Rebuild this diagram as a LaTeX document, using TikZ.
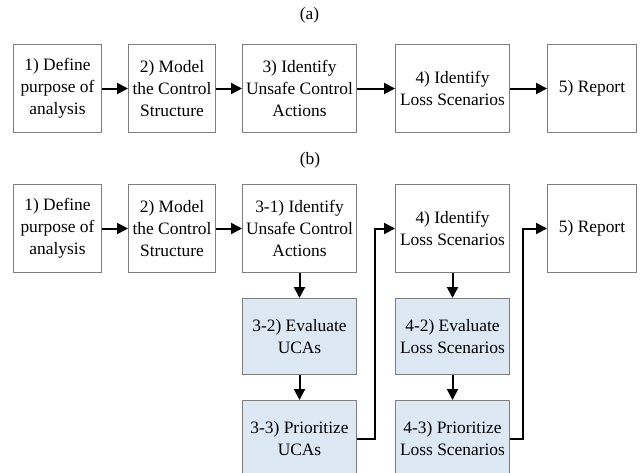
\documentclass[tikz,border=0pt]{standalone}
\usepackage{fontspec}
\setmainfont{Liberation Serif}
\usetikzlibrary{arrows.meta, positioning}

\definecolor{boxgray}{RGB}{125,125,125}
\definecolor{ucafill}{RGB}{221,232,245}

\begin{document}
\begin{tikzpicture}[
    font=\fontsize{17.4pt}{22pt}\selectfont,
    node distance=26pt and 26pt,
    box/.style={draw=boxgray, line width=1pt, fill=white, minimum height=88pt,
                inner sep=1pt, align=center},
    subbox/.style={box, fill=ucafill, minimum width=114pt, minimum height=76pt},
    arr/.style={-{Triangle[length=11pt,width=11pt]}, draw=black, line width=2pt}
]
\useasboundingbox (0,0) rectangle (644pt,-472pt);

% (a) original STPA steps
\node[box, minimum width=88pt, anchor=north west] (a1) at (13pt,-44pt) {1) Define\\purpose of\\analysis};
\node[box, minimum width=87pt, right=of a1] (a2) {2) Model\\the Control\\Structure};
\node[box, minimum width=114pt, right=of a2] (a3) {3) Identify\\Unsafe Control\\Actions};
\node[box, minimum width=114pt, right=38pt of a3] (a4) {4) Identify\\Loss Scenarios};
\node[box, minimum width=89pt, right=37pt of a4] (a5) {5) Report};

\node (lbla) at (309.5pt,-15pt) {(a)};

\draw[arr] (a1) -- (a2);
\draw[arr] (a2) -- (a3);
\draw[arr] (a3) -- (a4);
\draw[arr] (a4) -- (a5);

% (b) extended steps
\node[box, minimum width=88pt, below=51pt of a1] (b1) {1) Define\\purpose of\\analysis};
\node[box, minimum width=87pt, below=51pt of a2] (b2) {2) Model\\the Control\\Structure};
\node[box, minimum width=114pt, below=51pt of a3] (b3) {3-1) Identify\\Unsafe Control\\Actions};
\node[box, minimum width=114pt, below=51pt of a4] (b4) {4) Identify\\Loss Scenarios};
\node[box, minimum width=89pt, below=51pt of a5] (b5) {5) Report};

\node (lblb) at (310pt,-160pt) {(b)};

\node[subbox, below=25pt of b3] (c32) {3-2) Evaluate\\UCAs};
\node[subbox, below=25pt of c32] (c33) {3-3) Prioritize\\UCAs};
\node[subbox, below=25pt of b4] (c42) {4-2) Evaluate\\Loss Scenarios};
\node[subbox, below=25pt of c42] (c43) {4-3) Prioritize\\Loss Scenarios};

\draw[arr] (b1) -- (b2);
\draw[arr] (b2) -- (b3);
\draw[arr] (b3) -- (c32);
\draw[arr] (c32) -- (c33);
\draw[arr] (c33.east) -- ++(18pt,0) |- (b4.west);
\draw[arr] (b4) -- (c42);
\draw[arr] (c42) -- (c43);
\draw[arr] (c43.east) -- ++(13pt,0) |- (b5.west);
\end{tikzpicture}
\end{document}
